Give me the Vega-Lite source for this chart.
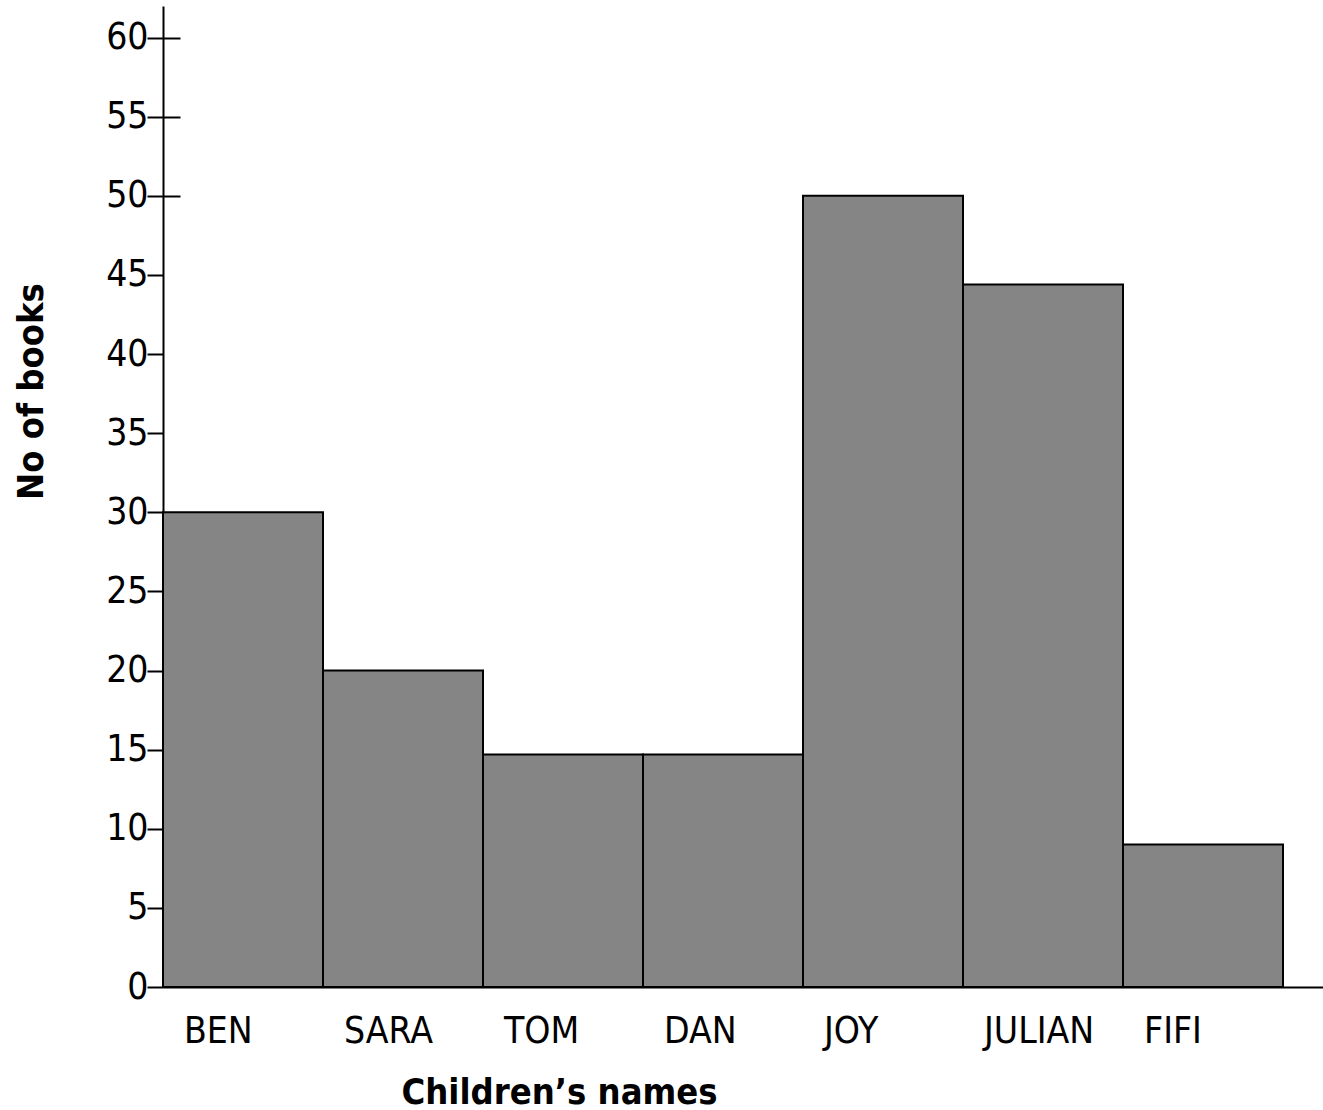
{
  "$schema": "https://vega.github.io/schema/vega-lite/v6.json",
  "width": 1160,
  "height": 981,
  "autosize": "none",
  "padding": {"left": 163, "top": 6, "right": 0, "bottom": 123},
  "background": "white",
  "config": {
    "font": "DejaVu Sans Condensed",
    "view": {"stroke": null},
    "axis": {
      "grid": false,
      "domainColor": "black",
      "domainWidth": 2,
      "tickColor": "black",
      "tickWidth": 2,
      "labelColor": "black",
      "titleColor": "black",
      "labelFont": "DejaVu Sans Condensed",
      "titleFont": "DejaVu Sans Condensed"
    }
  },
  "data": {
    "values": [
      {"name": "BEN", "books": 30},
      {"name": "SARA", "books": 20},
      {"name": "TOM", "books": 14.7},
      {"name": "DAN", "books": 14.7},
      {"name": "JOY", "books": 50},
      {"name": "JULIAN", "books": 44.4},
      {"name": "FIFI", "books": 9}
    ]
  },
  "encoding": {
    "x": {
      "field": "name",
      "type": "nominal",
      "sort": null,
      "scale": {"paddingInner": 0, "paddingOuter": 0.125, "align": 0},
      "axis": {
        "title": "Children’s names",
        "ticks": false,
        "labelAngle": 0,
        "labelFontSize": 37,
        "labelAlign": "left",
        "labelOffset": -59,
        "labelBaseline": "alphabetic",
        "labelPadding": 55,
        "titleFontSize": 36,
        "titleFontWeight": "bold",
        "titleX": 396,
        "titleY": 116,
        "titleBaseline": "alphabetic",
        "titleAlign": "center"
      }
    }
  },
  "layer": [
    {
      "mark": {"type": "bar", "fill": "#858585", "stroke": "black", "strokeWidth": 2},
      "encoding": {
        "y": {
          "field": "books",
          "type": "quantitative",
          "scale": {"domain": [0, 62], "nice": false},
          "axis": {
            "title": "No of books",
            "values": [0, 5, 10, 15, 20, 25, 30, 35, 40, 45, 50, 55, 60],
            "tickSize": 16,
            "labelPadding": -1,
            "labelFontSize": 37,
            "labelBaseline": "middle",
            "titleFontSize": 36,
            "titleFontWeight": "bold",
            "titleX": -121,
            "titleY": 385,
            "titleBaseline": "alphabetic",
            "titleAlign": "center",
            "titleAngle": -90
          }
        }
      }
    },
    {
      "mark": {"type": "bar", "opacity": 0},
      "encoding": {
        "y": {
          "field": "books",
          "type": "quantitative",
          "axis": {
            "orient": "left",
            "values": [50, 55, 60],
            "tickSize": -17,
            "labels": false,
            "domain": false,
            "title": null
          }
        }
      }
    }
  ],
  "resolve": {"axis": {"y": "independent"}}
}
